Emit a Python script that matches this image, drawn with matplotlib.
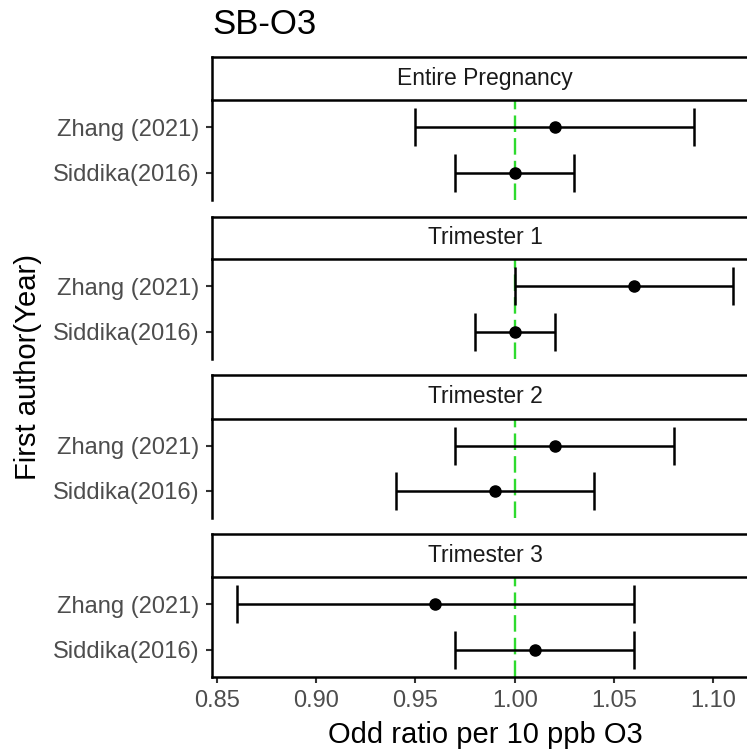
import matplotlib.pyplot as plt

plt.rcParams['font.family'] = ['Liberation Sans', 'DejaVu Sans']

# data
periods = ['Entire Pregnancy', 'Trimester 1', 'Trimester 2', 'Trimester 3']
studies = ['Siddika(2016)', 'Zhang (2021)']  # bottom -> top
est = {
    'Entire Pregnancy': [1.00, 1.02],
    'Trimester 1': [1.00, 1.06],
    'Trimester 2': [0.99, 1.02],
    'Trimester 3': [1.01, 0.96],
}
lower = {
    'Entire Pregnancy': [0.97, 0.95],
    'Trimester 1': [0.98, 1.00],
    'Trimester 2': [0.94, 0.97],
    'Trimester 3': [0.97, 0.86],
}
upper = {
    'Entire Pregnancy': [1.03, 1.09],
    'Trimester 1': [1.02, 1.11],
    'Trimester 2': [1.04, 1.08],
    'Trimester 3': [1.06, 1.06],
}
xticks = [0.85, 0.90, 0.95, 1.00, 1.05, 1.10]

W, H = 747, 750
fig = plt.figure(figsize=(W / 100, H / 100), dpi=100)

left, right = 211.7, 758.2
# (strip top, strip bottom/panel top, panel bottom) in pixels
rows = [(56.7, 100.0, 200.0), (216.7, 259.3, 359.0),
        (375.0, 418.7, 517.7), (534.3, 577.3, 676.7)]

green = '#2EDB2E'
for i, p in enumerate(periods):
    st, pt, pb = rows[i]
    ax = fig.add_axes([left / W, 1 - pb / H, (right - left) / W, (pb - pt) / H])
    y = list(range(1, len(studies) + 1))
    xerr = [[e - l for e, l in zip(est[p], lower[p])],
            [u - e for e, u in zip(est[p], upper[p])]]
    ax.axvline(1.0, color=green, lw=1.7, dashes=(7, 2.6), zorder=1)
    ax.errorbar(est[p], y, xerr=xerr, fmt='o', color='black', ms=8,
                elinewidth=1.8, capsize=14, capthick=1.8, zorder=3)
    ax.set_xlim(0.8475, 1.1225)
    ax.set_ylim(0.4, 2.6)
    ax.set_yticks(y)
    ax.set_yticklabels(studies, fontsize=17, color='#4D4D4D')
    ax.set_xticks(xticks)
    for s in ['top', 'right']:
        ax.spines[s].set_visible(False)
    ax.spines['left'].set_linewidth(1.8)
    ax.spines['bottom'].set_linewidth(1.8)
    ax.tick_params(axis='y', length=4.3, width=1.5, color='#333333', pad=4.5)
    if i == len(periods) - 1:
        ax.set_xticklabels([f'{v:.2f}' for v in xticks], fontsize=17, color='#4D4D4D')
        ax.tick_params(axis='x', length=4.3, width=1.5, color='#333333', pad=5)
    else:
        ax.spines['bottom'].set_visible(False)
        ax.tick_params(axis='x', bottom=False, labelbottom=False)

    # facet strip
    sa = fig.add_axes([left / W, 1 - pt / H, (right - left) / W, (pt - st) / H])
    sa.set_xticks([])
    sa.set_yticks([])
    for s in sa.spines.values():
        s.set_linewidth(1.8)
    sa.text(0.5, 0.5, p, ha='center', va='center',
            fontsize=16.5, color='#1A1A1A', transform=sa.transAxes)

fig.text(212 / W, 1 - 25 / H, 'SB-O3', fontsize=25, ha='left', va='center')
fig.text(485 / W, 1 - 735 / H, 'Odd ratio per 10 ppb O3', fontsize=21,
         ha='center', va='center')
fig.text(28 / W, 1 - 367 / H, 'First author(Year)', fontsize=21, rotation=90,
         ha='center', va='center')

fig.savefig('out.png', dpi=100)
